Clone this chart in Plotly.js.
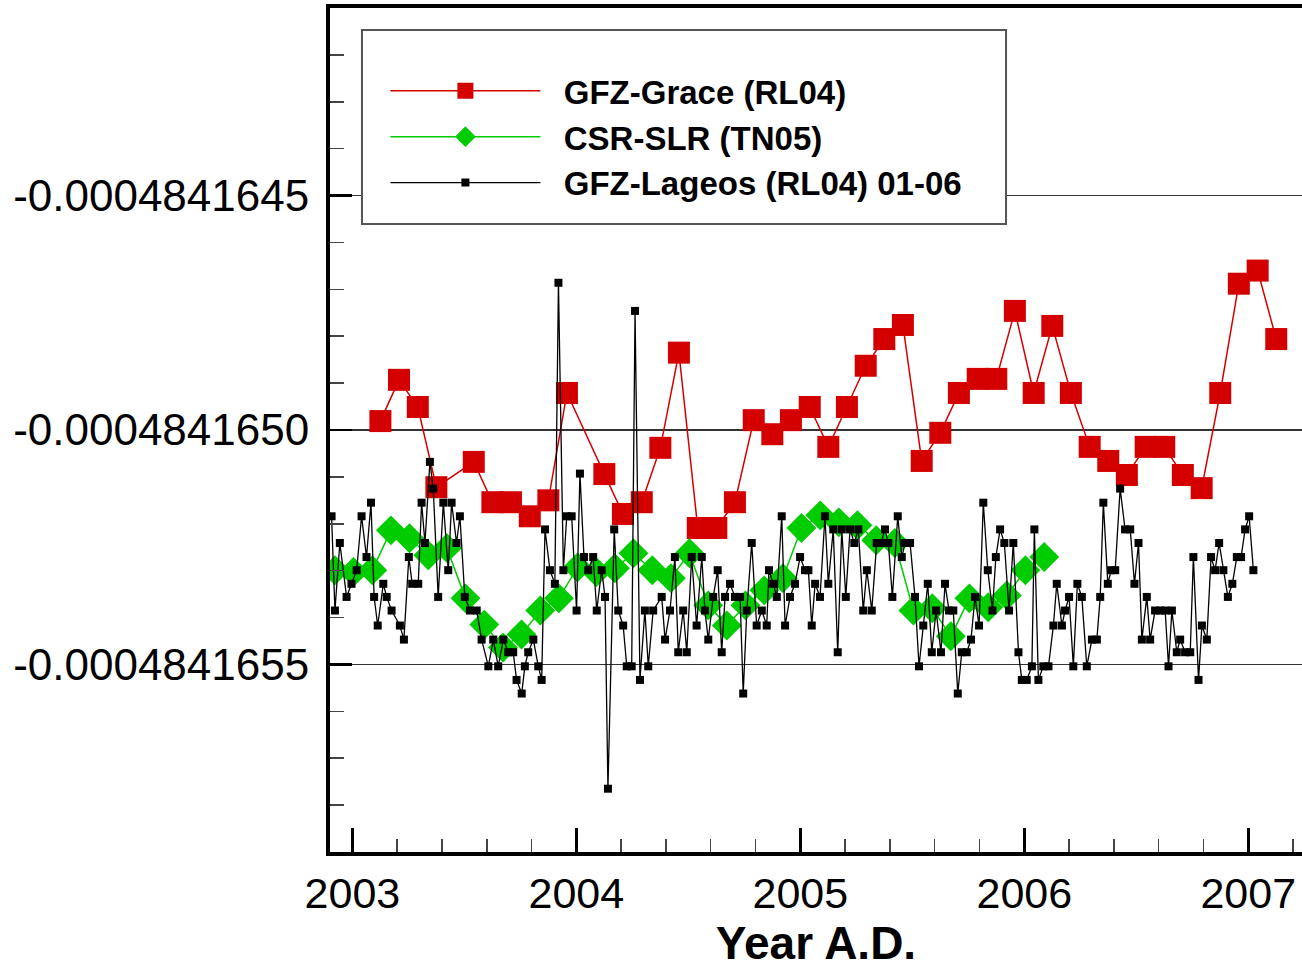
<!DOCTYPE html>
<html>
<head>
<meta charset="utf-8">
<script src="https://cdn.plot.ly/plotly-3.0.1.min.js"></script>
<style>
html,body{margin:0;padding:0;background:#fff;}
#chart{width:1302px;height:970px;}
</style>
</head>
<body>
<div id="chart"></div>
<script>
// ---- Data (decimal years) ----
const seriesNames = ["GFZ-Grace (RL04)", "CSR-SLR (TN05)", "GFZ-Lageos (RL04) 01-06"];

const graceX = [2003.125,2003.208,2003.292,2003.375,2003.542,2003.625,2003.708,2003.792,2003.875,2003.958,
  2004.125,2004.208,2004.292,2004.375,2004.458,2004.542,2004.625,2004.708,2004.792,2004.875,2004.958,
  2005.042,2005.125,2005.208,2005.292,2005.375,2005.458,2005.542,2005.625,2005.708,2005.792,2005.875,2005.958,
  2006.042,2006.125,2006.208,2006.292,2006.375,2006.458,2006.542,2006.625,2006.708,2006.792,2006.875,2006.958,
  2007.042,2007.125];
const graceY = [-0.000484164981,-0.000484164893,-0.000484164951,-0.000484165122,-0.000484165068,-0.000484165154,-0.000484165154,-0.000484165184,-0.000484165150,-0.000484164921,
  -0.000484165094,-0.000484165179,-0.000484165154,-0.000484165038,-0.000484164835,-0.000484165209,-0.000484165209,-0.000484165154,-0.000484164979,-0.000484165009,-0.000484164979,
  -0.000484164951,-0.000484165036,-0.000484164951,-0.000484164863,-0.000484164806,-0.000484164776,-0.000484165066,-0.000484165006,-0.000484164921,-0.000484164891,-0.000484164891,-0.000484164746,
  -0.000484164921,-0.000484164778,-0.000484164921,-0.000484165036,-0.000484165066,-0.000484165096,-0.000484165036,-0.000484165036,-0.000484165096,-0.000484165124,-0.000484164921,-0.000484164688,
  -0.000484164660,-0.000484164806];

const slrX = [2002.922,2003.005,2003.089,2003.172,2003.255,2003.339,2003.422,2003.505,2003.589,2003.672,2003.755,2003.839,2003.922,
  2004.005,2004.089,2004.172,2004.255,2004.339,2004.422,2004.505,2004.589,2004.672,2004.755,2004.839,2004.922,
  2005.005,2005.089,2005.172,2005.255,2005.339,2005.422,2005.505,2005.589,2005.672,2005.755,2005.839,2005.922,
  2006.005,2006.089];
const slrY = [-0.000484165299,-0.000484165303,-0.000484165299,-0.000484165214,-0.000484165231,-0.000484165267,-0.000484165252,-0.000484165359,-0.000484165415,-0.000484165464,-0.000484165436,-0.000484165385,-0.000484165359,
  -0.000484165293,-0.000484165303,-0.000484165295,-0.000484165263,-0.000484165299,-0.000484165316,-0.000484165263,-0.000484165374,-0.000484165417,-0.000484165374,-0.000484165342,-0.000484165316,
  -0.000484165209,-0.000484165182,-0.000484165197,-0.000484165203,-0.000484165235,-0.000484165241,-0.000484165385,-0.000484165380,-0.000484165440,-0.000484165359,-0.000484165378,-0.000484165353,
  -0.000484165299,-0.000484165271];

const lageosX = [2002.907,2002.922,2002.944,2002.974,2002.996,2003.019,2003.041,2003.063,2003.083,2003.097,
  2003.113,2003.138,2003.153,2003.175,2003.212,2003.230,2003.252,2003.267,2003.294,2003.309,
  2003.324,2003.346,2003.361,2003.383,2003.406,2003.428,2003.443,2003.465,2003.480,2003.502,
  2003.525,2003.555,2003.577,2003.607,2003.629,2003.651,2003.674,2003.696,2003.718,2003.733,
  2003.756,2003.770,2003.785,2003.808,2003.830,2003.845,2003.860,2003.882,2003.904,2003.920,
  2003.942,2003.957,2003.979,2004.001,2004.016,2004.034,2004.053,2004.075,2004.091,2004.113,
  2004.128,2004.141,2004.169,2004.187,2004.209,2004.225,2004.247,2004.262,2004.284,2004.306,
  2004.321,2004.343,2004.381,2004.396,2004.418,2004.440,2004.455,2004.477,2004.493,2004.515,
  2004.537,2004.560,2004.574,2004.589,2004.611,2004.631,2004.649,2004.664,2004.686,2004.708,
  2004.731,2004.745,2004.761,2004.783,2004.805,2004.828,2004.850,2004.860,2004.879,2004.895,
  2004.917,2004.932,2004.954,2004.976,2004.999,2005.021,2005.036,2005.051,2005.066,2005.088,
  2005.110,2005.125,2005.147,2005.167,2005.185,2005.203,2005.222,2005.241,2005.259,2005.281,
  2005.297,2005.319,2005.341,2005.360,2005.378,2005.393,2005.411,2005.435,2005.453,2005.468,
  2005.490,2005.512,2005.530,2005.549,2005.569,2005.587,2005.606,2005.628,2005.646,2005.664,
  2005.683,2005.703,2005.721,2005.743,2005.762,2005.780,2005.798,2005.817,2005.837,2005.858,
  2005.873,2005.892,2005.911,2005.932,2005.951,2005.974,2005.989,2006.011,2006.034,2006.045,
  2006.063,2006.085,2006.108,2006.130,2006.145,2006.168,2006.182,2006.200,2006.219,2006.237,
  2006.257,2006.279,2006.302,2006.324,2006.339,2006.353,2006.373,2006.388,2006.406,2006.428,
  2006.450,2006.473,2006.492,2006.510,2006.525,2006.547,2006.562,2006.584,2006.607,2006.629,
  2006.644,2006.659,2006.681,2006.696,2006.718,2006.741,2006.755,2006.778,2006.793,2006.815,
  2006.834,2006.852,2006.870,2006.889,2006.909,2006.929,2006.949,2006.968,2006.986,2007.004,
  2007.023];
const lageosY = [-0.000484165184,-0.000484165385,-0.000484165241,-0.000484165356,-0.000484165328,-0.000484165299,-0.000484165184,-0.000484165271,-0.000484165155,-0.000484165356,
  -0.000484165417,-0.000484165328,-0.000484165356,-0.000484165385,-0.000484165417,-0.000484165447,-0.000484165271,-0.000484165328,-0.000484165328,-0.000484165155,
  -0.000484165241,-0.000484165068,-0.000484165125,-0.000484165356,-0.000484165155,-0.000484165299,-0.000484165155,-0.000484165241,-0.000484165184,-0.000484165356,
  -0.000484165385,-0.000484165385,-0.000484165447,-0.000484165504,-0.000484165447,-0.000484165504,-0.000484165447,-0.000484165474,-0.000484165474,-0.000484165533,
  -0.000484165562,-0.000484165504,-0.000484165474,-0.000484165447,-0.000484165504,-0.000484165533,-0.000484165212,-0.000484165299,-0.000484165328,-0.000484164686,
  -0.000484165299,-0.000484165184,-0.000484165184,-0.000484165385,-0.000484165093,-0.000484165271,-0.000484165299,-0.000484165271,-0.000484165385,-0.000484165299,
  -0.000484165356,-0.000484165765,-0.000484165212,-0.000484165385,-0.000484165417,-0.000484165504,-0.000484165504,-0.000484164746,-0.000484165533,-0.000484165385,
  -0.000484165504,-0.000484165385,-0.000484165356,-0.000484165447,-0.000484165385,-0.000484165271,-0.000484165474,-0.000484165385,-0.000484165474,-0.000484165271,
  -0.000484165417,-0.000484165271,-0.000484165385,-0.000484165447,-0.000484165356,-0.000484165299,-0.000484165474,-0.000484165356,-0.000484165328,-0.000484165356,
  -0.000484165356,-0.000484165562,-0.000484165385,-0.000484165241,-0.000484165417,-0.000484165385,-0.000484165417,-0.000484165299,-0.000484165328,-0.000484165356,
  -0.000484165184,-0.000484165417,-0.000484165356,-0.000484165328,-0.000484165271,-0.000484165299,-0.000484165299,-0.000484165417,-0.000484165328,-0.000484165356,
  -0.000484165184,-0.000484165328,-0.000484165212,-0.000484165474,-0.000484165212,-0.000484165356,-0.000484165212,-0.000484165241,-0.000484165212,-0.000484165385,
  -0.000484165299,-0.000484165385,-0.000484165241,-0.000484165241,-0.000484165212,-0.000484165241,-0.000484165356,-0.000484165184,-0.000484165271,-0.000484165241,
  -0.000484165241,-0.000484165356,-0.000484165504,-0.000484165417,-0.000484165328,-0.000484165474,-0.000484165385,-0.000484165474,-0.000484165328,-0.000484165385,
  -0.000484165385,-0.000484165562,-0.000484165474,-0.000484165474,-0.000484165447,-0.000484165356,-0.000484165417,-0.000484165155,-0.000484165299,-0.000484165385,
  -0.000484165271,-0.000484165212,-0.000484165241,-0.000484165385,-0.000484165241,-0.000484165474,-0.000484165533,-0.000484165533,-0.000484165504,-0.000484165212,
  -0.000484165533,-0.000484165504,-0.000484165504,-0.000484165417,-0.000484165328,-0.000484165417,-0.000484165385,-0.000484165356,-0.000484165504,-0.000484165328,
  -0.000484165356,-0.000484165504,-0.000484165447,-0.000484165447,-0.000484165356,-0.000484165155,-0.000484165328,-0.000484165299,-0.000484165299,-0.000484165125,
  -0.000484165212,-0.000484165212,-0.000484165328,-0.000484165241,-0.000484165447,-0.000484165356,-0.000484165447,-0.000484165385,-0.000484165385,-0.000484165385,
  -0.000484165504,-0.000484165385,-0.000484165474,-0.000484165447,-0.000484165474,-0.000484165474,-0.000484165271,-0.000484165533,-0.000484165417,-0.000484165447,
  -0.000484165271,-0.000484165299,-0.000484165241,-0.000484165299,-0.000484165356,-0.000484165328,-0.000484165271,-0.000484165271,-0.000484165212,-0.000484165184,
  -0.000484165299];

const xTickVals = [2003, 2004, 2005, 2006, 2007];
const xTickText = ["2003", "2004", "2005", "2006", "2007"];
const xMinorTickVals = [2003.2,2003.4,2003.6,2003.8,2004.2,2004.4,2004.6,2004.8,2005.2,2005.4,2005.6,2005.8,
  2006.2,2006.4,2006.6,2006.8,2007.2];
const yTickVals = [-0.0004841645, -0.000484165, -0.0004841655];
const yTickText = ["-0.0004841645", "-0.0004841650", "-0.0004841655"];
const yMinorTickVals = [-0.0004841642,-0.0004841643,-0.0004841644,-0.0004841646,-0.0004841647,-0.0004841648,-0.0004841649,
  -0.0004841651,-0.0004841652,-0.0004841653,-0.0004841654,-0.0004841656,-0.0004841657,-0.0004841658];
const xTitle = "Year A.D.";

// ---- Plot ----
const RED = "#d40000", GREEN = "#00cc00", BLACK = "#000000";
const FONT = "Liberation Sans, Arial, Helvetica, sans-serif";
const PAD = "\u00a0\u00a0";

const traces = [
  {x: graceX, y: graceY, name: PAD + seriesNames[0], type: "scatter", mode: "lines+markers",
   line: {color: RED, width: 1.5}, marker: {symbol: "square", size: 22, color: RED}},
  {x: slrX, y: slrY, name: PAD + seriesNames[1], type: "scatter", mode: "lines+markers",
   line: {color: GREEN, width: 1.5}, marker: {symbol: "diamond", size: 23, color: GREEN}},
  {x: lageosX, y: lageosY, name: PAD + seriesNames[2], type: "scatter", mode: "lines+markers",
   line: {color: BLACK, width: 1.3}, marker: {symbol: "square", size: 8, color: BLACK}}
];

const layout = {
  width: 1302, height: 970,
  margin: {l: 330, r: 0, t: 8, b: 118, pad: 0},
  paper_bgcolor: "#ffffff", plot_bgcolor: "#ffffff",
  font: {family: FONT, color: "#000"},
  showlegend: true,
  legend: {
    x: 0.057, y: 0.935, xanchor: "left", yanchor: "top",
    bgcolor: "rgba(0,0,0,0)", borderwidth: 0,
    itemwidth: 150, itemsizing: "trace",
    font: {family: FONT, size: 33, weight: "bold", color: "#000"},
    tracegroupgap: 0
  },
  shapes: [{
    type: "rect", xref: "paper", yref: "paper", layer: "above",
    x0: 0.0329, x1: 0.6955, y0: 0.7441, y1: 0.9739,
    line: {color: "#555", width: 2}, fillcolor: "#ffffff"
  }],
  xaxis: {
    range: [2002.9, 2007.24],
    tickmode: "array", tickvals: xTickVals, ticktext: xTickText,
    ticks: "inside", ticklen: 24, tickwidth: 2.5, tickcolor: "#000",
    minor: {tickmode: "array", tickvals: xMinorTickVals, ticks: "inside", ticklen: 13, tickwidth: 1.5, tickcolor: "#444", showgrid: false},
    showline: true, linecolor: "#000", linewidth: 4, mirror: true,
    showgrid: false, zeroline: false,
    tickfont: {family: FONT, size: 43, color: "#000"},
    ticklabelstandoff: 0,
    title: {text: xTitle, font: {family: FONT, size: 46, weight: "bold", color: "#000"}, standoff: 9},
    automargin: false, fixedrange: true
  },
  yaxis: {
    range: [-0.0004841659, -0.0004841641],
    tickmode: "array", tickvals: yTickVals, ticktext: yTickText,
    ticks: "inside", ticklen: 22, tickwidth: 2.5, tickcolor: "#000",
    minor: {tickmode: "array", tickvals: yMinorTickVals, ticks: "inside", ticklen: 14, tickwidth: 1.5, tickcolor: "#444", showgrid: false},
    showline: true, linecolor: "#000", linewidth: 4, mirror: false,
    showgrid: true, gridcolor: "#333", gridwidth: 1.8, zeroline: false,
    tickfont: {family: FONT, size: 44, color: "#000"},
    ticklabelstandoff: 8,
    automargin: false, fixedrange: true
  }
};

Plotly.newPlot("chart", traces, layout, {staticPlot: true, displayModeBar: false});
</script>
</body>
</html>
